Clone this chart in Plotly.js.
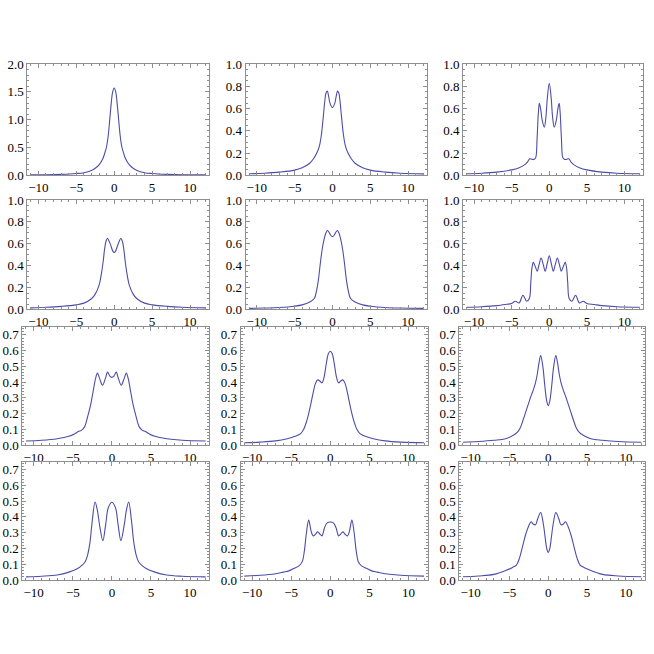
<!DOCTYPE html>
<html>
<head>
<meta charset="utf-8">
<script src="https://cdn.plot.ly/plotly-3.0.1.min.js"></script>
<style>
  html, body { margin: 0; padding: 0; background: #fff; }
  #chart { width: 654px; height: 654px; }
</style>
</head>
<body>
<div id="chart"></div>
<script>
// values, one pair of arrays per panel (left to right, top to bottom)
const xs1 = [-11,-9,-7,-5,-4,-3,-2.5,-2,-1.5,-1.2,-1,-0.8,-0.6,-0.4,-0.2,0,0.2,0.4,0.6,0.8,1,1.2,1.5,2,2.5,3,4,5,7,9,12];
const ys1 = [0.01,0.012,0.02,0.035,0.05,0.09,0.13,0.19,0.3,0.42,0.52,0.7,0.98,1.28,1.5,1.57,1.5,1.28,0.98,0.7,0.52,0.42,0.3,0.19,0.13,0.09,0.05,0.035,0.02,0.012,0.01];

const xs2 = [-11,-9,-7,-5,-4,-3,-2.5,-2,-1.7,-1.45,-1.2,-1,-0.85,-0.67,-0.5,-0.3,0,0.3,0.5,0.67,0.85,1,1.2,1.45,1.7,2,2.5,3,4,5,7,9,12];
const ys2 = [0.015,0.02,0.03,0.048,0.07,0.11,0.15,0.21,0.27,0.37,0.53,0.67,0.74,0.757,0.71,0.645,0.61,0.645,0.71,0.757,0.74,0.67,0.53,0.37,0.27,0.21,0.15,0.11,0.07,0.048,0.03,0.02,0.014];

const xs3 = [-11,-9,-7,-5,-4,-3.3,-2.9,-2.6,-2.3,-2,-1.8,-1.62,-1.45,-1.32,-1.15,-0.95,-0.66,-0.45,-0.25,0,0.25,0.45,0.66,0.95,1.15,1.32,1.45,1.62,1.8,2,2.3,2.6,2.9,3.3,4,5,7,9,12];
const ys3 = [0.015,0.02,0.03,0.05,0.07,0.095,0.12,0.15,0.145,0.145,0.16,0.33,0.56,0.648,0.6,0.5,0.433,0.52,0.7,0.827,0.7,0.52,0.433,0.5,0.6,0.648,0.56,0.33,0.16,0.145,0.145,0.15,0.12,0.095,0.07,0.05,0.03,0.02,0.015];

const xs4 = [-11,-9,-7,-5,-4,-3,-2.5,-2,-1.7,-1.45,-1.25,-1.05,-0.88,-0.65,-0.4,-0.2,0,0.2,0.4,0.65,0.88,1.05,1.25,1.45,1.7,2,2.5,3,4,5,7,9,12];
const ys4 = [0.015,0.02,0.028,0.042,0.058,0.098,0.14,0.22,0.32,0.44,0.56,0.63,0.65,0.62,0.575,0.535,0.52,0.535,0.575,0.62,0.65,0.63,0.56,0.44,0.32,0.22,0.14,0.098,0.058,0.042,0.028,0.02,0.015];

const xs5 = [-11,-9,-7,-5,-4,-3,-2.4,-2.1,-1.85,-1.6,-1.35,-1.1,-0.85,-0.66,-0.45,-0.25,0,0.25,0.45,0.66,0.85,1.1,1.35,1.6,1.85,2.1,2.4,3,4,5,7,9,12];
const ys5 = [0.01,0.013,0.018,0.03,0.042,0.068,0.1,0.17,0.27,0.42,0.55,0.64,0.7,0.722,0.705,0.68,0.665,0.68,0.705,0.722,0.7,0.64,0.55,0.42,0.27,0.17,0.1,0.068,0.042,0.03,0.018,0.013,0.01];

const xs6 = [-11,-9,-7,-6,-5,-4.5,-4,-3.5,-3,-2.65,-2.45,-2.3,-2.12,-1.85,-1.6,-1.35,-1.08,-0.8,-0.54,-0.27,0,0.27,0.54,0.8,1.08,1.35,1.6,1.85,2.12,2.3,2.45,2.65,3,3.5,4,4.5,5,6,7,9,12];
const ys6 = [0.02,0.025,0.035,0.045,0.055,0.075,0.06,0.13,0.075,0.1,0.25,0.38,0.43,0.39,0.35,0.41,0.47,0.41,0.35,0.42,0.49,0.42,0.35,0.41,0.47,0.41,0.35,0.39,0.43,0.38,0.25,0.1,0.075,0.13,0.06,0.075,0.055,0.045,0.035,0.025,0.02];

const xs7 = [-11,-9,-7,-5.5,-4.8,-4.3,-3.9,-3.5,-3.1,-2.7,-2.4,-2.1,-1.85,-1.55,-1.2,-0.85,-0.55,-0.28,0,0.28,0.55,0.85,1.2,1.55,1.85,2.1,2.4,2.7,3.1,3.5,3.9,4.3,4.8,5.5,7,9,12];
const ys7 = [0.025,0.03,0.04,0.055,0.07,0.086,0.093,0.115,0.18,0.26,0.34,0.42,0.457,0.42,0.38,0.42,0.463,0.44,0.43,0.44,0.463,0.42,0.38,0.42,0.457,0.42,0.34,0.26,0.18,0.115,0.093,0.086,0.07,0.055,0.04,0.03,0.025];

const xs8 = [-11,-9,-7,-5.5,-4.5,-3.8,-3.4,-3,-2.6,-2.2,-1.9,-1.6,-1.3,-1.06,-0.8,-0.5,-0.25,0,0.25,0.5,0.8,1.06,1.3,1.6,1.9,2.2,2.6,3,3.4,3.8,4.5,5.5,7,9,12];
const ys8 = [0.014,0.018,0.026,0.04,0.055,0.072,0.1,0.155,0.235,0.33,0.39,0.414,0.405,0.395,0.43,0.52,0.58,0.596,0.58,0.52,0.43,0.395,0.405,0.414,0.39,0.33,0.235,0.155,0.1,0.072,0.055,0.04,0.026,0.018,0.014];

const xs9 = [-11,-9,-7,-5.5,-4.5,-4,-3.6,-3.2,-2.9,-2.6,-2.3,-2,-1.7,-1.45,-1.2,-0.98,-0.7,-0.45,-0.2,0,0.2,0.45,0.7,0.98,1.2,1.45,1.7,2,2.3,2.6,2.9,3.2,3.6,4,4.5,5.5,7,9,12];
const ys9 = [0.017,0.022,0.03,0.04,0.062,0.08,0.11,0.165,0.21,0.255,0.3,0.34,0.385,0.44,0.52,0.568,0.5,0.38,0.28,0.25,0.28,0.38,0.5,0.568,0.52,0.44,0.385,0.34,0.3,0.255,0.21,0.165,0.11,0.08,0.062,0.04,0.03,0.022,0.017];

const xs10 = [-11,-9,-7,-5.5,-4.5,-3.8,-3.4,-3.1,-2.8,-2.5,-2.15,-1.85,-1.55,-1.15,-0.8,-0.45,0,0.45,0.8,1.15,1.55,1.85,2.15,2.5,2.8,3.1,3.4,3.8,4.5,5.5,7,9,12];
const ys10 = [0.02,0.024,0.032,0.05,0.07,0.095,0.118,0.16,0.24,0.38,0.495,0.44,0.34,0.25,0.35,0.46,0.493,0.46,0.35,0.25,0.34,0.44,0.495,0.38,0.24,0.16,0.118,0.095,0.07,0.05,0.032,0.024,0.02];

const xs11 = [-11,-9,-7,-6,-5.3,-4.6,-4,-3.6,-3.3,-3.05,-2.76,-2.45,-2.2,-1.9,-1.6,-1.3,-1.06,-0.75,-0.4,0,0.4,0.75,1.06,1.3,1.6,1.9,2.2,2.45,2.76,3.05,3.3,3.6,4,4.6,5.3,6,7,9,12];
const ys11 = [0.025,0.03,0.04,0.05,0.058,0.075,0.09,0.115,0.19,0.3,0.38,0.31,0.28,0.29,0.305,0.29,0.28,0.33,0.362,0.368,0.362,0.33,0.28,0.29,0.305,0.29,0.28,0.31,0.38,0.3,0.19,0.115,0.09,0.075,0.058,0.05,0.04,0.03,0.025];

const xs12 = [-11,-9,-7,-5.5,-4.6,-4.1,-3.7,-3.3,-2.9,-2.55,-2.2,-1.95,-1.65,-1.35,-0.98,-0.65,-0.4,-0.2,0,0.2,0.4,0.65,0.98,1.35,1.65,1.95,2.2,2.55,2.9,3.3,3.7,4.1,4.6,5.5,7,9,12];
const ys12 = [0.021,0.026,0.036,0.06,0.08,0.095,0.14,0.215,0.29,0.34,0.369,0.355,0.35,0.39,0.428,0.36,0.27,0.2,0.175,0.2,0.27,0.36,0.428,0.39,0.35,0.355,0.369,0.34,0.29,0.215,0.14,0.095,0.08,0.06,0.036,0.026,0.021];

// y axis top for each panel
const yTops = [2, 1, 1, 1, 1, 1, 0.75, 0.75, 0.75, 0.75, 0.75, 0.75];

const panels = [
  [xs1, ys1], [xs2, ys2], [xs3, ys3],
  [xs4, ys4], [xs5, ys5], [xs6, ys6],
  [xs7, ys7], [xs8, ys8], [xs9, ys9],
  [xs10, ys10], [xs11, ys11], [xs12, ys12]
];

// frame positions (paper fractions)
const rowY = [[0.7317, 0.9021], [0.5268, 0.6942], [0.3196, 0.5000], [0.1131, 0.2940]];
const colXTop = [[0.0417, 0.3191], [0.3757, 0.6524], [0.7080, 0.9832]];
const colXBottom = [[0.0341, 0.3200], [0.3680, 0.6540], [0.7023, 0.9862]];

const frameColor = '#8f8f8f';
const tickFont = { family: 'Liberation Serif', size: 13, color: '#000' };

const yTicks = top => {
  if (top === 2) return { dtick: 0.5, minor: 0.1 };
  if (top === 1) return { dtick: 0.2, minor: 0.05 };
  return { dtick: 0.1, minor: 0.02 };
};

const data = [];
const layout = {
  width: 654,
  height: 654,
  margin: { l: 0, r: 0, t: 0, b: 0 },
  paper_bgcolor: '#fff',
  plot_bgcolor: '#fff',
  showlegend: false,
  font: { family: 'Liberation Serif' }
};

panels.forEach(([xs, ys], i) => {
  const row = Math.floor(i / 3);
  const col = i % 3;
  const n = i === 0 ? '' : String(i + 1);
  const top = yTops[i];
  const yt = yTicks(top);

  data.push({
    x: xs,
    y: ys,
    xaxis: 'x' + n,
    yaxis: 'y' + n,
    type: 'scatter',
    mode: 'lines',
    line: { color: 'rgb(76,76,170)', width: 1.1, shape: 'spline', smoothing: 1 },
    hoverinfo: 'skip'
  });

  layout['xaxis' + n] = {
    domain: row < 2 ? colXTop[col] : colXBottom[col],
    anchor: 'y' + n,
    range: [-11.46, 12.46],
    tick0: 0,
    dtick: 5,
    ticks: 'inside',
    ticklen: 4,
    tickwidth: 1,
    tickcolor: frameColor,
    minor: { tick0: 0, dtick: 1, ticks: 'inside', ticklen: 2, tickcolor: frameColor },
    showline: true,
    linecolor: frameColor,
    linewidth: 1,
    mirror: 'allticks',
    showgrid: false,
    zeroline: false,
    tickfont: tickFont
  };

  layout['yaxis' + n] = {
    domain: rowY[row],
    anchor: 'x' + n,
    range: [0, top],
    tick0: 0,
    dtick: yt.dtick,
    tickformat: '.1f',
    ticks: 'inside',
    ticklen: 4,
    tickwidth: 1,
    tickcolor: frameColor,
    minor: { tick0: 0, dtick: yt.minor, ticks: 'inside', ticklen: 2, tickcolor: frameColor },
    showline: true,
    linecolor: frameColor,
    linewidth: 1,
    mirror: 'allticks',
    showgrid: false,
    zeroline: false,
    tickfont: tickFont
  };
});

Plotly.newPlot('chart', data, layout, { staticPlot: true, displayModeBar: false });
</script>
</body>
</html>
